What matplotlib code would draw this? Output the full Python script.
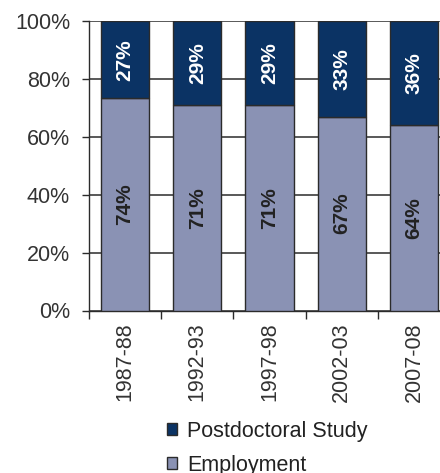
import matplotlib
matplotlib.use('Agg')
import matplotlib.pyplot as plt
from matplotlib.patches import Patch
from matplotlib.ticker import FixedLocator, PercentFormatter
import numpy as np

plt.rcParams['font.family'] = ['Liberation Sans', 'DejaVu Sans']

# Anteile nach Abschlussjahrgang (Prozent, wie beschriftet)
jahrgaenge = ["1987-88", "1992-93", "1997-98", "2002-03", "2007-08"]
employment = [74, 71, 71, 67, 64]
postdoc = [27, 29, 29, 33, 36]

C_POST = "#0b3364"
C_EMP = "#8a92b4"
EDGE = "#2b2b2b"

emp = np.array(employment, dtype=float)
pdc = np.array(postdoc, dtype=float)
total = emp + pdc
emp_share = emp / total * 100
pdc_share = pdc / total * 100

fig = plt.figure(figsize=(4.40, 4.73), dpi=100)
# Achse ragt rechts ueber den Rand hinaus (letzte Spalte angeschnitten)
ax = fig.add_axes([89 / 440, 162.5 / 473, 361 / 440, 289.5 / 473])

x = np.arange(len(jahrgaenge))
w = 0.67
ax.bar(x, emp_share, w, color=C_EMP, edgecolor=EDGE, linewidth=1.0, zorder=3)
ax.bar(x, pdc_share, w, bottom=emp_share, color=C_POST, edgecolor=EDGE,
       linewidth=1.0, zorder=3)

for i in range(len(x)):
    ax.text(x[i], emp_share[i] / 2, f"{employment[i]}%", rotation=90,
            ha="center", va="center", fontsize=15, fontweight="bold",
            color="#222222", zorder=4)
    ax.text(x[i], emp_share[i] + pdc_share[i] / 2, f"{postdoc[i]}%",
            rotation=90, ha="center", va="center", fontsize=15,
            fontweight="bold", color="white", zorder=4)

ax.set_xlim(-0.5, len(x) - 0.5)
ax.set_ylim(0, 100)
ax.yaxis.set_major_locator(FixedLocator([0, 20, 40, 60, 80, 100]))
ax.yaxis.set_major_formatter(PercentFormatter(decimals=0))
ax.grid(axis="y", color=EDGE, linewidth=1.1, zorder=1)

ax.set_xticks(x)
ax.set_xticklabels(jahrgaenge, rotation=90)
ax.set_xticks(np.arange(len(x) + 1) - 0.5, minor=True)
ax.tick_params(axis="x", which="major", length=0, pad=8.3,
               labelsize=15.5, labelcolor="#333333")
ax.tick_params(axis="x", which="minor", length=5.8, width=1.0, color=EDGE)
ax.tick_params(axis="y", length=5, width=1.0, color=EDGE, pad=8.6,
               labelsize=15.5, labelcolor="#333333")

for s in ["top", "right"]:
    ax.spines[s].set_visible(False)
for s in ["left", "bottom"]:
    ax.spines[s].set_color(EDGE)
    ax.spines[s].set_linewidth(1.0)

handles = [Patch(facecolor=C_POST, edgecolor=EDGE, linewidth=1.0),
           Patch(facecolor=C_EMP, edgecolor=EDGE, linewidth=1.0)]
fig.legend(handles, ["Postdoctoral Study", "Employment"],
           loc="upper left", bbox_to_anchor=(167 / 440, 1 - 421 / 473),
           frameon=False, fontsize=15.5, handlelength=0.47,
           handleheight=0.47, handletextpad=0.47, labelspacing=0.6,
           borderpad=0, borderaxespad=0, labelcolor="#222222")

fig.savefig("out.png", dpi=100)
plt.close(fig)
